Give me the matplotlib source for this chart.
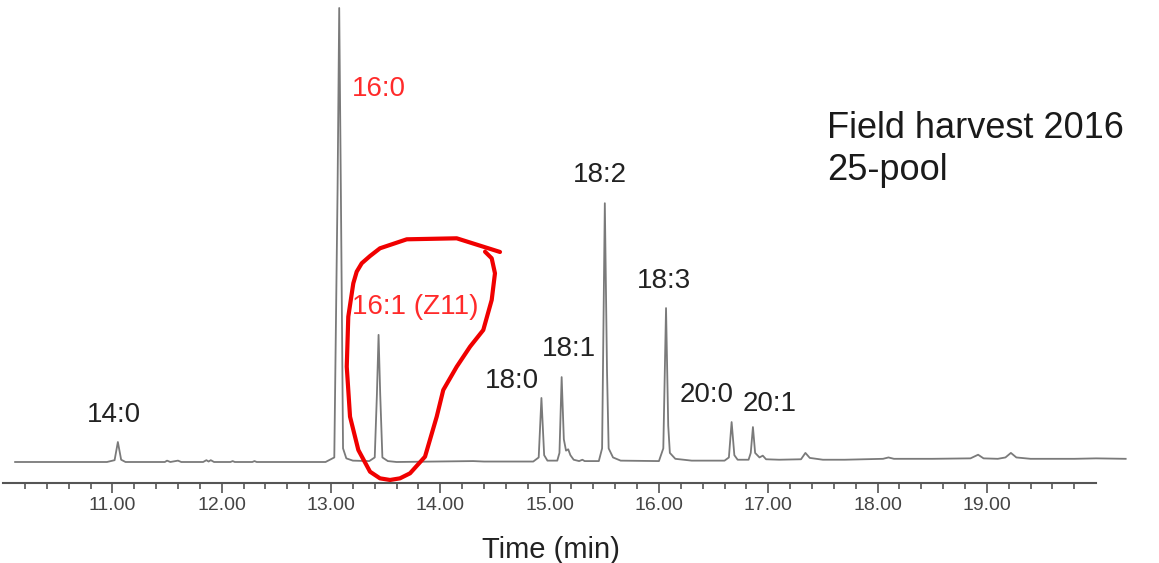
import numpy as np
import matplotlib
matplotlib.use("Agg")
import matplotlib.pyplot as plt
from matplotlib.ticker import FixedLocator, FormatStrFormatter

plt.rcParams["font.family"] = ["Liberation Sans", "DejaVu Sans"]

# Chromatogram trace (time in min, relative abundance, 16:0 = 100)
time = [10.11, 10.95, 11.02, 11.05, 11.08, 11.12, 11.48, 11.50, 11.53, 11.60, 11.63,
        11.83, 11.86, 11.88, 11.90, 11.93, 12.08, 12.10, 12.12, 12.28, 12.30, 12.32,
        12.95, 13.03, 13.06, 13.075, 13.09, 13.11, 13.14, 13.20, 13.35, 13.40, 13.42,
        13.435, 13.45, 13.47, 13.52, 13.60, 14.30, 14.40, 14.85, 14.90, 14.925, 14.95,
        14.98, 15.07, 15.09, 15.11, 15.13, 15.15, 15.17, 15.19, 15.22, 15.27, 15.30,
        15.32, 15.45, 15.48, 15.505, 15.525, 15.54, 15.58, 15.65, 16.00, 16.04, 16.065,
        16.085, 16.10, 16.15, 16.30, 16.60, 16.64, 16.665, 16.69, 16.72, 16.82, 16.84,
        16.86, 16.88, 16.92, 16.95, 16.98, 17.10, 17.30, 17.34, 17.38, 17.50, 17.70,
        18.05, 18.10, 18.15, 18.50, 18.85, 18.92, 18.97, 19.10, 19.17, 19.22, 19.27,
        19.40, 19.80, 20.00, 20.27]
signal = [0.0, 0.0, 0.4, 4.4, 0.5, 0.0, 0.0, 0.3, 0.0, 0.3, 0.0,
          0.0, 0.4, 0.1, 0.4, 0.0, 0.0, 0.2, 0.0, 0.0, 0.2, 0.0,
          0.0, 1.0, 60.0, 100.0, 60.0, 3.0, 0.8, 0.3, 0.2, 1.0, 15.0,
          28.0, 15.0, 1.0, 0.2, 0.0, 0.2, 0.1, 0.1, 1.0, 14.1, 1.5,
          0.3, 0.3, 2.0, 18.7, 5.0, 2.5, 2.8, 1.5, 0.5, 0.2, 0.5,
          0.2, 0.2, 3.0, 57.0, 20.0, 3.0, 1.0, 0.3, 0.2, 3.0, 33.9,
          8.0, 2.0, 0.7, 0.3, 0.3, 1.0, 8.8, 1.5, 0.5, 0.5, 2.0,
          7.7, 2.0, 1.0, 1.4, 0.6, 0.5, 0.6, 2.0, 0.9, 0.5, 0.5,
          0.7, 1.0, 0.7, 0.7, 0.8, 1.6, 0.8, 0.7, 1.0, 2.0, 1.0,
          0.7, 0.7, 0.8, 0.7]

# Peak labels: text, anchor time, anchor level (baseline of text), colour
peak_names = ["14:0", "16:0", "16:1 (Z11)", "18:0", "18:1", "18:2", "18:3", "20:0", "20:1"]
label_time = [10.77, 13.19, 13.19, 14.41, 14.93, 15.21, 15.80, 16.19, 16.77]
label_level = [8.8, 80.6, 32.6, 16.3, 23.3, 61.7, 38.3, 13.2, 11.2]
label_color = ["#222222", "#ff2a2a", "#ff2a2a", "#222222", "#222222", "#222222",
               "#222222", "#222222", "#222222"]

# hand-drawn red loop around the 16:1 peak
loop_t = [14.546, 14.150, 13.693, 13.448, 13.357, 13.281, 13.235, 13.204, 13.158,
          13.144, 13.174, 13.250, 13.357, 13.448, 13.540, 13.631, 13.723, 13.860,
          13.967, 14.027, 14.150, 14.272, 14.393, 14.470, 14.500, 14.470, 14.409]
loop_s = [46.26, 49.27, 49.05, 47.07, 45.37, 43.77, 41.92, 39.36, 32.00,
          20.99, 9.98, 2.64, -2.14, -3.60, -3.96, -3.60, -2.49, 1.17,
          9.98, 15.86, 20.99, 25.40, 29.07, 35.68, 41.56, 44.87, 46.32]

major_ticks = [11, 12, 13, 14, 15, 16, 17, 18, 19]
minor_ticks = [round(10 + 0.2 * i, 1) for i in range(1, 50) if i % 5 != 0]

fig = plt.figure(figsize=(11.59, 5.63), dpi=100)
ax = fig.add_axes([0.00267, 0.1421, 0.9714, 0.8579])

ax.plot(time, signal, color="#7a7a7a", linewidth=1.3, clip_on=False)
ax.plot(loop_t, loop_s, color="#f00000", linewidth=3, solid_capstyle="round",
        solid_joinstyle="round", clip_on=False)

for name, t, s, c in zip(peak_names, label_time, label_level, label_color):
    ax.text(t, s, name, fontsize=20, color=c, ha="left", va="baseline")

fig.text(827 / 1159, (563 - 138) / 563, "Field harvest 2016", fontsize=26,
         color="#1a1a1a", ha="left", va="baseline")
fig.text(827 / 1159, (563 - 180) / 563, "25-pool", fontsize=26,
         color="#1a1a1a", ha="left", va="baseline")

ax.set_xlim(10.0, 20.3)
ax.set_ylim(-4.626, 101.76)
ax.xaxis.set_major_locator(FixedLocator(major_ticks))
ax.xaxis.set_minor_locator(FixedLocator(minor_ticks))
ax.xaxis.set_major_formatter(FormatStrFormatter("%.2f"))
ax.tick_params(axis="x", which="major", length=7, width=1.2, color="#555555",
               labelsize=14, labelcolor="#444444", pad=3)
ax.tick_params(axis="x", which="minor", length=4, width=1.2, color="#555555")
ax.set_yticks([])
for side in ["left", "right", "top"]:
    ax.spines[side].set_visible(False)
ax.spines["bottom"].set_bounds(10.0, 20.0)
ax.spines["bottom"].set_color("#555555")
ax.spines["bottom"].set_linewidth(1.5)

fig.text(551 / 1159, 5 / 563, "Time (min)", fontsize=21, color="#222222",
         ha="center", va="baseline")

fig.savefig("out.png", dpi=100)
